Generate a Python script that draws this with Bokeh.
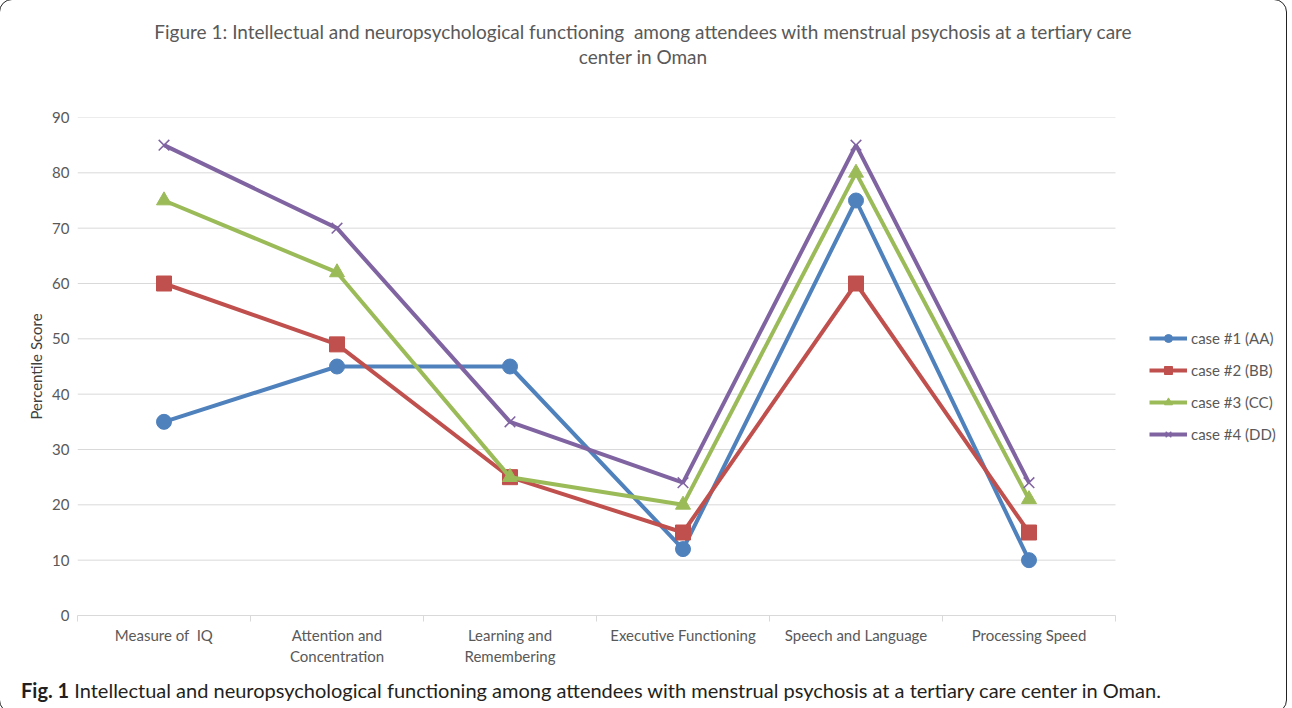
from bokeh.plotting import figure
from bokeh.models import Range1d, FixedTicker, Legend, LegendItem, CustomJSTickFormatter, Div
from bokeh.layouts import column
from bokeh.embed import file_html
from bokeh.resources import INLINE

categories = ["Measure of \u00a0IQ", "Attention and\nConcentration", "Learning and\nRemembering",
              "Executive Functioning", "Speech and Language", "Processing Speed"]
case1 = [35, 45, 45, 12, 75, 10]
case2 = [60, 49, 25, 15, 60, 15]
case3 = [75, 62, 25, 20, 80, 21]
case4 = [85, 70, 35, 24, 85, 24]
series_names = ["case #1 (AA)", "case #2 (BB)", "case #3 (CC)", "case #4 (DD)"]
y_ticks = [0, 10, 20, 30, 40, 50, 60, 70, 80, 90]

title_line1 = "Figure 1: Intellectual and neuropsychological functioning &nbsp;among attendees with menstrual psychosis at a tertiary care"
title_line2 = "center in Oman"
caption_bold = "Fig. 1"
caption_rest = "Intellectual and neuropsychological functioning among attendees with menstrual psychosis at a tertiary care center in Oman."

FONT = "Lato"
GREY = "#595959"

n_cat = len(categories)
xs = [i + 0.5 for i in range(n_cat)]

W = 1276
LEFT = 77
DATA_W = 1038          # pixel width of the category area
FRAME_W = W - LEFT     # frame extends to the right edge so the legend is not clipped
x_end = n_cat * FRAME_W / DATA_W

title_div = Div(width=W, height=70,
                text=('<div style="position:relative; left:5px; width:1266px; text-align:center; '
                      'padding:14px 0 0 0; font-family:Lato; '
                      f'font-size:19px; line-height:25px; color:{GREY}; white-space:nowrap">'
                      f'{title_line1}<br>{title_line2}</div>'))

p = figure(width=W, height=594, output_backend="svg", toolbar_location=None,
           x_range=Range1d(0, x_end), y_range=Range1d(0, 90),
           min_border_left=LEFT, min_border_right=0, min_border_top=37, min_border_bottom=59)
p.outline_line_color = None

# grid (limited to the category area)
p.xgrid.grid_line_color = None
p.ygrid.grid_line_color = None
p.segment(x0=[0] * len(y_ticks), x1=[n_cat] * len(y_ticks), y0=y_ticks, y1=y_ticks,
          line_color="#d9d9d9", line_width=1)

# y axis
p.yaxis.ticker = FixedTicker(ticks=y_ticks)
p.yaxis.axis_line_color = None
p.yaxis.major_tick_line_color = None
p.yaxis.minor_tick_line_color = None
p.yaxis.major_tick_out = 0
p.yaxis.major_tick_in = 0
p.yaxis.major_label_standoff = 8
p.yaxis.major_label_text_font = FONT
p.yaxis.major_label_text_font_size = "15px"
p.yaxis.major_label_text_color = GREY
p.yaxis.axis_label = "Percentile Score"
p.yaxis.axis_label_text_font = FONT
p.yaxis.axis_label_text_font_size = "15px"
p.yaxis.axis_label_text_font_style = "normal"
p.yaxis.axis_label_text_color = "#404040"
p.yaxis.axis_label_standoff = 4

# x axis
p.xaxis.bounds = (0, n_cat)
p.xaxis.ticker = FixedTicker(ticks=xs, minor_ticks=list(range(n_cat + 1)))
p.xaxis.formatter = CustomJSTickFormatter(args=dict(labels=categories),
                                          code="return labels[Math.floor(tick)];")
p.xaxis.axis_line_color = "#d9d9d9"
p.xaxis.major_tick_line_color = None
p.xaxis.major_tick_out = 0
p.xaxis.major_tick_in = 0
p.xaxis.minor_tick_line_color = "#d9d9d9"
p.xaxis.minor_tick_out = 6
p.xaxis.minor_tick_in = 0
p.xaxis.major_label_standoff = 4
p.xaxis.major_label_text_font = FONT
p.xaxis.major_label_text_font_size = "15px"
p.xaxis.major_label_text_color = GREY

colors = ["#4f81bd", "#c0504d", "#9bbb59", "#8064a2"]
markers = ["circle", "square", "triangle", "x"]
series = [case1, case2, case3, case4]

items = []
for name, vals, c, m in zip(series_names, series, colors, markers):
    ln = p.line(xs, vals, line_color=c, line_width=4)
    if m == "x":
        sc = p.scatter(xs, vals, marker=m, size=15, line_color=c, line_width=1.5)
    else:
        sc = p.scatter(xs, vals, marker=m, size=15, fill_color=c, line_color=c)
    items.append(LegendItem(label=name, renderers=[ln, sc]))

legend = Legend(items=items, location=(1072, 171), orientation="vertical",
                glyph_width=38, glyph_height=20, spacing=12, label_standoff=4,
                padding=0, margin=0, border_line_color=None, background_fill_alpha=0,
                label_text_font=FONT, label_text_font_size="15px", label_text_color=GREY)
p.add_layout(legend)

caption = Div(width=W, height=28,
              text=('<div style="padding:0 0 0 16px; font-family:Lato; font-size:20px; '
                    'line-height:22px; color:#231f20; white-space:nowrap">'
                    f'<b>{caption_bold}</b> {caption_rest}</div>'))

layout = column(title_div, p, caption, spacing=0)
layout.styles = {"outline": "1.5px solid #222222", "border-radius": "12px"}

open("out.html", "w").write(file_html(layout, INLINE))
